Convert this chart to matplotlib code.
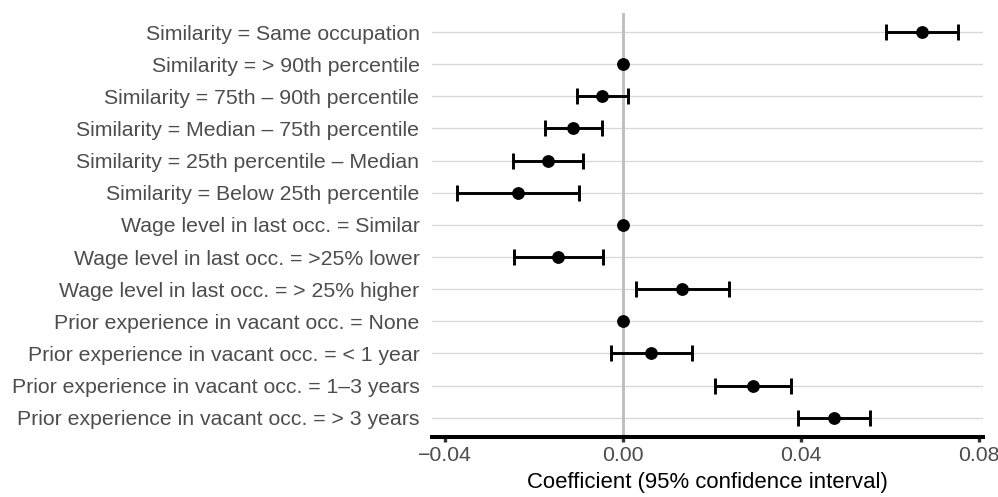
import numpy as np
import matplotlib
matplotlib.use("Agg")
import matplotlib.pyplot as plt

plt.rcParams['font.family'] = ['Liberation Sans', 'DejaVu Sans']

labels = [
    "Similarity = Same occupation",
    "Similarity = > 90th percentile",
    "Similarity = 75th \u2013 90th percentile",
    "Similarity = Median \u2013 75th percentile",
    "Similarity = 25th percentile \u2013 Median",
    "Similarity = Below 25th percentile",
    "Wage level in last occ. = Similar",
    "Wage level in last occ. = >25% lower",
    "Wage level in last occ. = > 25% higher",
    "Prior experience in vacant occ. = None",
    "Prior experience in vacant occ. = < 1 year",
    "Prior experience in vacant occ. = 1\u20133 years",
    "Prior experience in vacant occ. = > 3 years",
]
coef = [0.0671, 0.0, -0.0047, -0.0112, -0.0169, -0.0236, 0.0, -0.0145, 0.0133, 0.0, 0.0064, 0.0293, 0.0474]
ci_low = [0.0591, np.nan, -0.0103, -0.0176, -0.0247, -0.0373, np.nan, -0.0245, 0.0029, np.nan, -0.0026, 0.0207, 0.0394]
ci_high = [0.0753, np.nan, 0.0011, -0.0047, -0.0090, -0.0099, np.nan, -0.0045, 0.0239, np.nan, 0.0155, 0.0377, 0.0554]
xticks = [-0.04, 0.00, 0.04, 0.08]
xtick_labels = ["\u22120.04", "0.00", "0.04", "0.08"]

coef = np.array(coef)
lo = np.array(ci_low)
hi = np.array(ci_high)
y = np.arange(len(labels))

fig = plt.figure(figsize=(9.98, 4.97), dpi=100)
ax = fig.add_axes([432/998, 60/497, 551/998, 424.25/497])

for yy in y:
    ax.axhline(yy, color='#d6d6d6', lw=0.9, zorder=0)
ax.axvline(0, color='#bebebe', lw=2.1, zorder=1)

has = np.isfinite(lo)
ax.errorbar(coef[has], y[has], xerr=[coef[has] - lo[has], hi[has] - coef[has]],
            fmt='none', ecolor='black', elinewidth=2.1, capsize=5.9, capthick=2.1, zorder=3)
ax.plot(coef, y, 'o', color='black', markersize=8.2, zorder=4)

ax.set_ylim(len(labels) - 0.4, -0.6)
ax.set_xlim(-0.0429, 0.0809)
ax.set_yticks(y)
ax.set_yticklabels(labels, fontsize=15.3, color='#4d4d4d')
ax.set_xticks(xticks)
ax.set_xticklabels(xtick_labels, fontsize=15.3, color='#4d4d4d')
ax.tick_params(axis='y', length=0, pad=9)
ax.tick_params(axis='x', length=3.5, width=2.4, color='#333333', pad=3)
for s in ['top', 'right', 'left']:
    ax.spines[s].set_visible(False)
ax.spines['bottom'].set_linewidth(2.9)
ax.spines['bottom'].set_color('black')
ax.set_xlabel("Coefficient (95% confidence interval)", fontsize=15.9, color='black', labelpad=5)

fig.savefig("out.png", dpi=100)
